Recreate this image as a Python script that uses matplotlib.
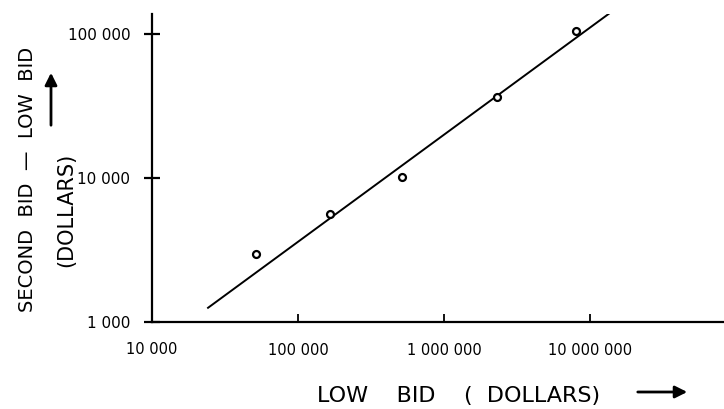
import matplotlib.pyplot as plt

# values
low_bid = [51500, 165000, 518000, 2300000, 8020000]
bid_gap = [2950, 5600, 10100, 36300, 105000]

# ends of the fitted line
fit_low_bid = [24200, 14600000]
fit_gap = [1255, 146800]

x_ticks = [1e5, 1e6, 1e7]
x_tick_labels = ["100 000", "1 000 000", "10 000 000"]
y_ticks = [1e3, 1e4, 1e5]
y_tick_labels = ["1 000", "10 000", "100 000"]

W, H = 724, 409
fig = plt.figure(figsize=(W / 100, H / 100), dpi=100)
ax = fig.add_axes([152 / W, 87 / H, 572 / W, 308 / H])
ax.set_xscale('log')
ax.set_yscale('log')
ax.set_xlim(1e4, 10 ** (4 + 572 / 146))
ax.set_ylim(1e3, 10 ** (3 + 308 / 144))

ax.plot(fit_low_bid, fit_gap, color='black', lw=1.4)
ax.plot(low_bid, bid_gap, 'o', mfc='white', mec='black', ms=5, mew=1.6)

for s in ['top', 'right']:
    ax.spines[s].set_visible(False)
for s in ['left', 'bottom']:
    ax.spines[s].set_linewidth(1.6)

ax.minorticks_off()
ax.set_xticks(x_ticks)
ax.set_xticklabels(x_tick_labels)
ax.set_yticks(y_ticks)
ax.set_yticklabels(y_tick_labels)
ax.tick_params(axis='x', direction='in', length=6, width=1.3, pad=15, labelsize=10.5)
ax.tick_params(axis='y', direction='inout', length=11, width=1.6, pad=10, labelsize=11)

# the 10 000 label sits on the corner of the axes
ax.text(1e4, -0.09, "10 000", transform=ax.get_xaxis_transform(),
        ha='center', va='center', fontsize=10.5, clip_on=False)

# axis titles, hand lettered in the original
fig.text(317 / W, 1 - 396 / H, "LOW    BID    (  DOLLARS)", ha='left', va='center', fontsize=16)
fig.text(28 / W, 1 - 179 / H, "SECOND  BID  —  LOW  BID", rotation=90,
         ha='center', va='center', fontsize=14)
fig.text(66 / W, 1 - 210 / H, "(DOLLARS)", rotation=90, ha='center', va='center', fontsize=15)

arrow = dict(arrowstyle='-|>', lw=2, color='black', mutation_scale=18)
fig.add_artist(plt.Annotation("", xy=(690 / W, 1 - 392 / H), xytext=(635 / W, 1 - 392 / H),
                              xycoords='figure fraction', arrowprops=arrow))
fig.add_artist(plt.Annotation("", xy=(51 / W, 1 - 70 / H), xytext=(51 / W, 1 - 128 / H),
                              xycoords='figure fraction', arrowprops=arrow))

fig.savefig('out.png', dpi=100)
